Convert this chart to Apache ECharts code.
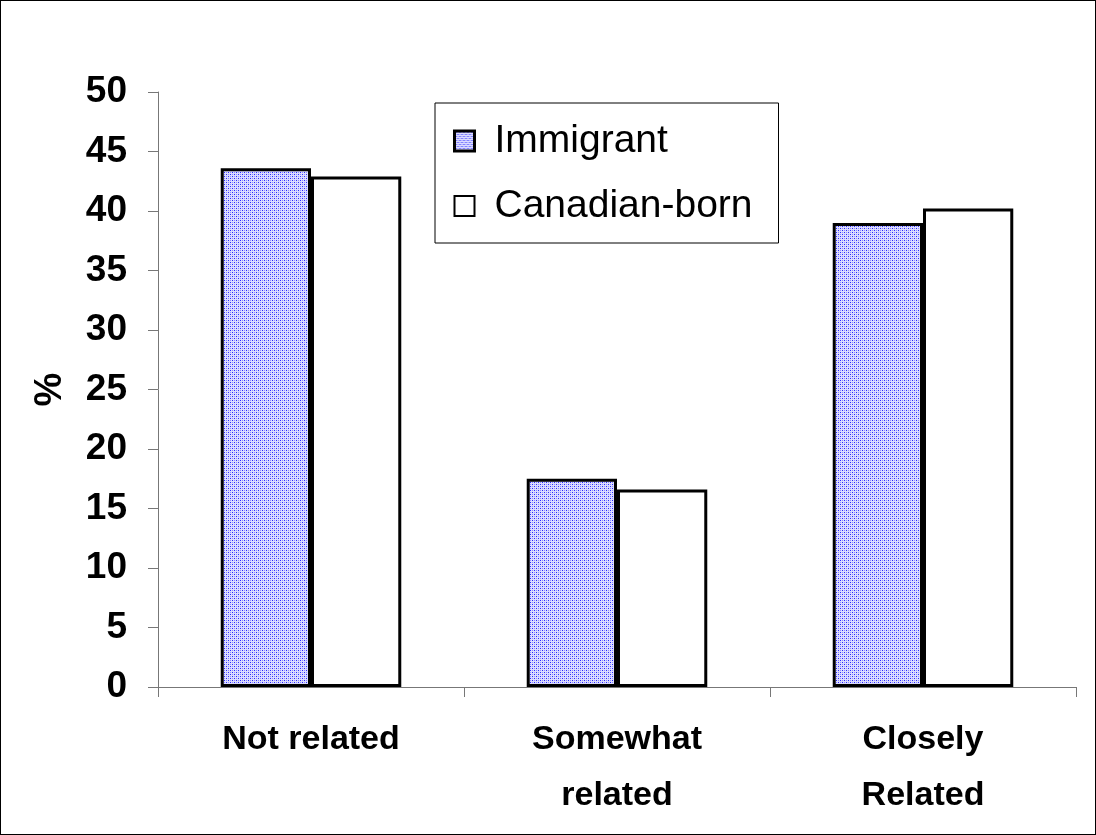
<!DOCTYPE html>
<html>
<head>
<meta charset="utf-8">
<script src="https://cdn.jsdelivr.net/npm/echarts@6/dist/echarts.min.js"></script>
<style>
  html, body { margin: 0; padding: 0; background: #fff; }
  #bar { width: 1096px; height: 835px; box-sizing: border-box; border: 1px solid #000; }
</style>
</head>
<body>
<div id="bar"></div>
<script>
var categories = ['Not related', 'Somewhat\nrelated', 'Closely\nRelated'];
var immigrant = [43.6, 17.5, 39.0];
var canadianBorn = [42.9, 16.6, 40.2];
var yTicks = [0, 5, 10, 15, 20, 25, 30, 35, 40, 45, 50];

// dotted blue fill like the original
function dotPattern() {
    var c = document.createElement('canvas');
    c.width = 4; c.height = 4;
    var ctx = c.getContext('2d');
    ctx.fillStyle = '#dcdcff';
    ctx.fillRect(0, 0, 4, 4);
    ctx.fillStyle = '#2a2aff';
    ctx.fillRect(1, 1, 1, 1);
    ctx.fillRect(3, 3, 1, 1);
    ctx.fillStyle = '#8c8cff';
    ctx.fillRect(3, 1, 1, 1);
    ctx.fillRect(1, 3, 1, 1);
    return c;
}
var dots = dotPattern();

var chart = echarts.init(document.getElementById('bar'));
var font = 'Liberation Sans, Arial, sans-serif';

var option = {
    animation: false,
    grid: { left: 157, right: 19, top: 91, bottom: 147 },
    legend: {
        orient: 'vertical',
        left: 434,
        top: 102,
        padding: [18, 26, 17, 18],
        itemGap: 25,
        itemWidth: 20,
        itemHeight: 20,
        borderColor: '#000',
        borderWidth: 1,
        borderRadius: 0,
        icon: 'rect',
        textStyle: {
            fontFamily: font,
            fontSize: 39,
            color: '#000',
            lineHeight: 40,
            padding: [0, 0, 0, 15]
        },
        data: [
            { name: 'Immigrant', itemStyle: { borderColor: '#000', borderWidth: 3 } },
            { name: 'Canadian-born', itemStyle: { borderColor: '#000', borderWidth: 2 } }
        ]
    },
    xAxis: {
        type: 'category',
        data: categories,
        axisLine: { lineStyle: { color: '#777', width: 1 } },
        axisTick: { show: true, length: 10, interval: 0, lineStyle: { color: '#777' } },
        axisLabel: {
            margin: 25,
            interval: 0,
            fontFamily: font,
            fontWeight: 'bold',
            fontSize: 34,
            lineHeight: 56,
            color: '#000'
        }
    },
    yAxis: {
        type: 'value',
        min: yTicks[0],
        max: yTicks[yTicks.length - 1],
        interval: 5,
        name: '%',
        nameLocation: 'middle',
        nameGap: 88,
        nameRotate: 90,
        nameTextStyle: { fontFamily: font, fontWeight: 'bold', fontSize: 38, color: '#000' },
        splitLine: { show: false },
        axisLine: { show: true, lineStyle: { color: '#777', width: 1 } },
        axisTick: { show: true, length: 10, lineStyle: { color: '#777' } },
        axisLabel: {
            margin: 31,
            fontFamily: font,
            fontWeight: 'bold',
            fontSize: 37,
            color: '#000'
        }
    },
    series: [
        {
            name: 'Immigrant',
            type: 'bar',
            barGap: 0,
            barCategoryGap: '41%',
            data: immigrant,
            itemStyle: {
                color: { image: dots, repeat: 'repeat' },
                borderColor: '#000',
                borderWidth: 3
            }
        },
        {
            name: 'Canadian-born',
            type: 'bar',
            data: canadianBorn,
            itemStyle: {
                color: '#fff',
                borderColor: '#000',
                borderWidth: 3
            }
        }
    ]
};

chart.setOption(option);
</script>
</body>
</html>
